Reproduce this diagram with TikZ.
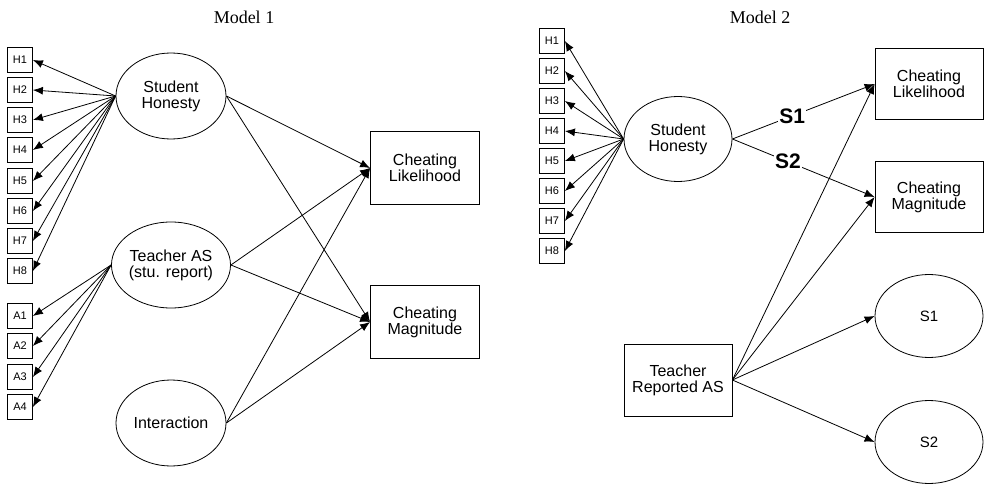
\documentclass[tikz,border=0pt]{standalone}
\usepackage{fontspec}
\setmainfont{Liberation Serif}
\setsansfont{Liberation Sans}
\usetikzlibrary{shapes.geometric,arrows.meta}
\tikzset{
  ind/.style={draw,rectangle,minimum width=25pt,minimum height=25pt,inner sep=0pt,font=\sffamily\fontsize{11}{12}\selectfont},
  lat/.style={draw,ellipse,minimum width=110pt,minimum height=86pt,inner sep=0pt,align=center,font=\sffamily\fontsize{16}{16}\selectfont},
  outb/.style={draw,rectangle,minimum width=109pt,minimum height=73pt,inner sep=0pt,align=center,font=\sffamily\fontsize{16}{16}\selectfont},
  ttl/.style={font=\rmfamily\fontsize{18}{20}\selectfont},
  arr/.style={-{Latex[length=10pt,width=8pt]},line width=0.8pt},
  lab/.style={fill=white,inner sep=1pt,font=\sffamily\bfseries\fontsize{21}{23}\selectfont}
}
\begin{document}
\begin{tikzpicture}[x=1pt,y=-1pt,line width=0.8pt]
\useasboundingbox (0,0) rectangle (985,484);
% ---------- Model 1 ----------
\node[ttl] (t1) at (244,17) {Model 1};
\foreach \i/\y in {1/60,2/90,3/120,4/150,5/181,6/211,7/241,8/271}{
  \node[ind] (ah\i) at (20,\y) {H\i};
}
\foreach \i/\y in {1/316,2/346,3/377,4/407}{
  \node[ind] (aa\i) at (20,\y) {A\i};
}
\node[lat] (sh1) at (171,96) {Student\\Honesty};
\node[lat] (ta1) at (171,265) {Teacher AS\\(stu. report)};
\node[lat] (in1) at (171,423) {Interaction};
\node[outb] (cl1) at (425,168) {Cheating\\Likelihood};
\node[outb] (cm1) at (425,322) {Cheating\\Magnitude};
\foreach \i in {1,...,8}{ \draw[arr] (sh1.west) -- (ah\i.east); }
\foreach \i in {1,...,4}{ \draw[arr] (ta1.west) -- (aa\i.east); }
\foreach \s in {sh1,ta1,in1}{
  \draw[arr] (\s.east) -- (cl1.west);
  \draw[arr] (\s.east) -- (cm1.west);
}
% ---------- Model 2 ----------
\node[ttl] (t2) at (760,17) {Model 2};
\foreach \i/\y in {1/41,2/71,3/101,4/131,5/161,6/191,7/221,8/251}{
  \node[ind] (bh\i) at (552,\y) {H\i};
}
\node[lat,minimum width=108pt,minimum height=85pt] (sh2) at (678,139) {Student\\Honesty};
\node[outb,minimum width=108pt,minimum height=71pt] (cl2) at (929,84) {Cheating\\Likelihood};
\node[outb,minimum width=108pt,minimum height=71pt] (cm2) at (929,197) {Cheating\\Magnitude};
\node[lat,minimum width=108pt,minimum height=83pt,font=\sffamily\fontsize{15}{16}\selectfont] (s1) at (929,316) {S1};
\node[lat,minimum width=108pt,minimum height=83pt,font=\sffamily\fontsize{15}{16}\selectfont] (s2) at (929,442) {S2};
\node[outb,minimum width=108pt,minimum height=72pt] (tr2) at (678,380) {Teacher\\Reported AS};
\foreach \i in {1,...,8}{ \draw[arr] (sh2.west) -- (bh\i.east); }
\draw[arr] (sh2.east) -- node[lab,pos=0.42] {S1} (cl2.west);
\draw[arr] (sh2.east) -- node[lab,pos=0.39] {S2} (cm2.west);
\draw[arr] (tr2.east) -- (cl2.west);
\draw[arr] (tr2.east) -- (cm2.west);
\draw[arr] (tr2.east) -- (s1.west);
\draw[arr] (tr2.east) -- (s2.west);
\end{tikzpicture}
\end{document}
